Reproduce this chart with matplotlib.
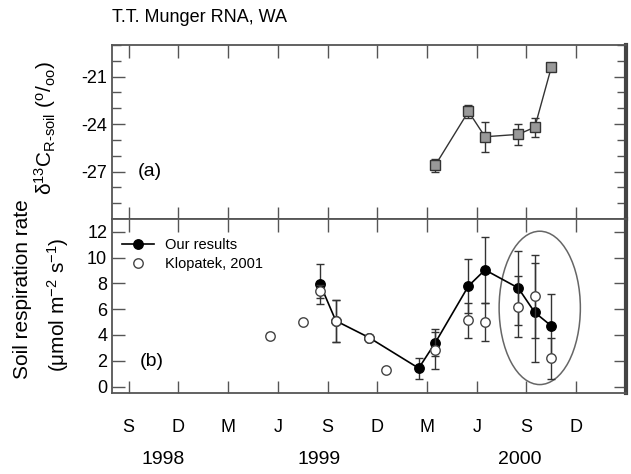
import matplotlib
matplotlib.use("Agg")
import matplotlib.pyplot as plt
from matplotlib.patches import Ellipse
from matplotlib.lines import Line2D
import matplotlib.transforms as mtransforms

plt.rcParams['font.family'] = ['Liberation Sans', 'DejaVu Sans']
plt.rcParams['mathtext.fontset'] = 'custom'
plt.rcParams['mathtext.rm'] = 'Liberation Sans'
plt.rcParams['mathtext.it'] = 'Liberation Sans:italic'
plt.rcParams['axes.unicode_minus'] = False

# x in months since Sept 1998
# panel (a): delta13C of soil respiration
d13_x = [18.5, 20.5, 21.5, 23.5, 24.5, 25.5]
d13_y = [-26.6, -23.2, -24.8, -24.65, -24.2, -20.4]
d13_err = [0.4, 0.4, 0.95, 0.65, 0.6, 0.0]

# panel (b): soil respiration, our results
our_x = [11.55, 12.5, 14.5, 17.5, 18.5, 20.5, 21.5, 23.5, 24.5, 25.5]
our_y = [7.95, 5.1, 3.8, 1.42, 3.4, 7.8, 9.05, 7.65, 5.75, 4.7]
our_err = [1.55, 1.65, 0.2, 0.8, 1.05, 2.1, 2.55, 2.9, 3.85, 2.45]

# Klopatek, 2001
klo_x = [8.5, 10.5, 11.55, 12.5, 14.5, 15.5, 18.5, 20.5, 21.5, 23.5, 24.5, 25.5]
klo_y = [3.9, 5.0, 7.4, 5.1, 3.8, 1.3, 2.8, 5.15, 5.0, 6.2, 7.0, 2.2]
klo_err = [0.25, 0.0, 0.5, 1.65, 0.2, 0.0, 1.45, 1.35, 1.45, 2.35, 3.2, 1.6]

month_ticks = [0, 3, 6, 9, 12, 15, 18, 21, 24, 27]
month_labels = ['S', 'D', 'M', 'J', 'S', 'D', 'M', 'J', 'S', 'D']
years = ['1998', '1999', '2000']
year_pos = [2.1, 11.5, 23.6]

fig = plt.figure(figsize=(6.31, 4.74), dpi=100)
axa = fig.add_axes([0.1775, 0.538, 0.8145, 0.367])
axb = fig.add_axes([0.1775, 0.171, 0.8145, 0.367])

spine_c = '#555555'
for ax in (axa, axb):
    ax.set_xlim(-1, 30)
    ax.set_xticks(month_ticks)
    for s in ax.spines.values():
        s.set_color(spine_c)
        s.set_linewidth(1.3)
    ax.spines['right'].set_linewidth(3)
    ax.spines['right'].set_color('#444444')
    ax.tick_params(which='both', direction='in', top=True, right=True,
                   color=spine_c, width=1.0, labelsize=13)
    ax.tick_params(which='major', length=9)
    ax.tick_params(which='minor', length=6.5)

# panel (a)
axa.errorbar(d13_x, d13_y, yerr=d13_err, color='#333333', lw=1, capsize=3,
             marker='s', ms=6.5, mfc='#999999', mec='#333333', ecolor='#333333',
             elinewidth=1)
axa.set_ylim(-30, -19)
axa.set_yticks([-27, -24, -21])
axa.set_yticks(range(-29, -18), minor=True)
axa.set_xticklabels([])
axa.text(0.55, -27, '(a)', fontsize=14, va='center')

# panel (b)
axb.errorbar(our_x, our_y, yerr=our_err, color='black', lw=1.2, capsize=3,
             marker='o', ms=6.8, mfc='black', mec='black', ecolor='#333333',
             elinewidth=1, zorder=2)
axb.errorbar(klo_x, klo_y, yerr=klo_err, ls='none', capsize=3,
             marker='o', ms=6.8, mfc='white', mec='#444444', ecolor='#333333',
             elinewidth=1, zorder=3)
axb.add_patch(Ellipse((24.8, 6.1), 4.9, 11.9, fill=False, ec='#666666', lw=1.1))
axb.set_ylim(-0.5, 13)
axb.set_yticks(range(0, 13, 2))
axb.set_xticklabels(month_labels)
axb.tick_params(axis='x', pad=19)
axb.text(0.65, 1.95, '(b)', fontsize=14, va='center')

handles = [Line2D([], [], color='black', lw=1.2, marker='o', ms=6.8, mfc='black'),
           Line2D([], [], ls='none', marker='o', ms=6.8, mfc='white', mec='#444444')]
axb.legend(handles, ['Our results', 'Klopatek, 2001'], loc='upper left',
           bbox_to_anchor=(0.0, 0.95), frameon=False, fontsize=10.5,
           handlelength=2.2, handletextpad=0.7, labelspacing=0.35,
           borderaxespad=0.3)

trans = mtransforms.blended_transform_factory(axb.transData, fig.transFigure)
for yr, xp in zip(years, year_pos):
    fig.text(xp, 1 - 460 / 474, yr, transform=trans, fontsize=14,
             ha='center', va='center')

fig.text(112 / 631, 1 - 17 / 474, 'T.T. Munger RNA, WA', fontsize=13, va='center')
fig.text(0.072, 1 - 128 / 474,
         'δ$^{13}$C$_{\\mathrm{R\\text{-}soil}}$ ($^{\\mathrm{o}}$/$_{\\mathrm{oo}}$)',
         rotation=90, fontsize=15, ha='center', va='center')
fig.text(0.035, 1 - 289 / 474, 'Soil respiration rate', rotation=90,
         fontsize=15, ha='center', va='center')
fig.text(0.092, 1 - 305 / 474, '(μmol m$^{-2}$ s$^{-1}$)', rotation=90,
         fontsize=15, ha='center', va='center')

fig.savefig('out.png', dpi=100)
